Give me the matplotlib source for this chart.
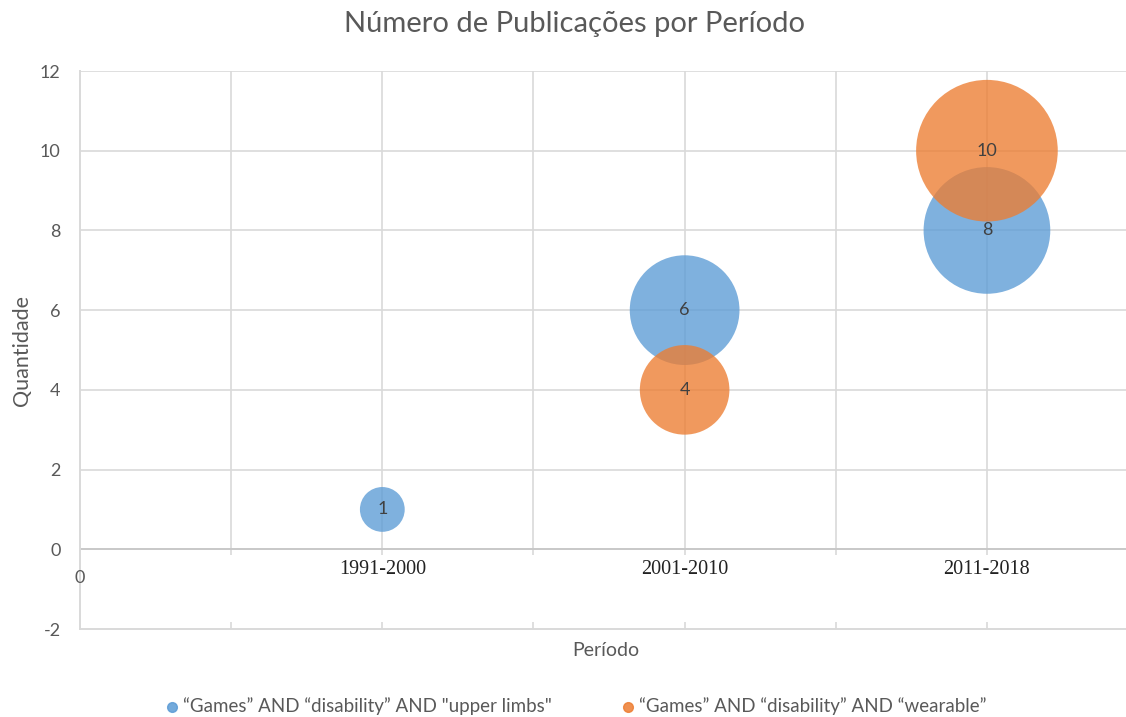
import matplotlib.pyplot as plt
from matplotlib.lines import Line2D
import numpy as np

# data
periods = ["1991-2000", "2001-2010", "2011-2018"]
period_x = [1, 2, 3]
upper_limbs = [1, 6, 8]
wearable = [0, 4, 10]
series_names = ['\u201cGames\u201d AND \u201cdisability\u201d AND "upper limbs"',
                '\u201cGames\u201d AND \u201cdisability\u201d AND \u201cwearable\u201d']
y_ticks = [-2, 0, 2, 4, 6, 8, 10, 12]

BLUE = "#5B9BD5"
ORANGE = "#ED7D31"
GRID = "#D9D9D9"
TXT = "#595959"
SANS = ["Lato", "DejaVu Sans"]
SERIF = ["Liberation Serif", "DejaVu Serif"]

fig = plt.figure(figsize=(11.26, 7.17), dpi=100)
ax = fig.add_axes([80 / 1126, 1 - 629 / 717, 1 - 80 / 1126, (629 - 71) / 717])
ax.set_xlim(0, 3.46)
ax.set_ylim(-2, 12)

# grid
for gx in np.arange(0.5, 3.5, 0.5):
    ax.vlines(gx, -0.15, 12, color=GRID, lw=1.2, zorder=0)
for gy in y_ticks[2:]:
    ax.axhline(gy, color=GRID, lw=1.2, zorder=0)
ax.axhline(0, color="#C8C8C8", lw=1.4, zorder=0)
for s in ["top", "right"]:
    ax.spines[s].set_visible(False)
for s in ["left", "bottom"]:
    ax.spines[s].set_color(GRID)
    ax.spines[s].set_linewidth(1.4)

ax.set_xticks(np.arange(0.5, 3.5, 0.5))
ax.set_xticklabels([])
ax.tick_params(axis="x", direction="in", length=5, color=GRID, width=1.2)
ax.set_yticks(y_ticks)
ax.set_yticklabels([str(v) for v in y_ticks], fontsize=13, color=TXT, family=SANS)
ax.tick_params(axis="y", length=0, pad=14)

# bubbles: area proportional to value
k = 1040
def bubbles(vals, color):
    xs = [x for x, v in zip(period_x, vals) if v > 0]
    vs = [v for v in vals if v > 0]
    ax.scatter(xs, vs, s=[k * v for v in vs], color=color, alpha=0.78,
               edgecolors="none", zorder=3)
    for x, v in zip(xs, vs):
        ax.text(x, v, str(v), ha="center", va="center", fontsize=13,
                color="#404040", family=SANS, zorder=5)

bubbles(upper_limbs, BLUE)
bubbles(wearable, ORANGE)

for x, lab in zip(period_x, periods):
    ax.text(x, -0.5, lab, ha="center", va="center", fontsize=14.5,
            color="#222222", family=SERIF)
ax.text(0, -0.72, "0", ha="center", va="center", fontsize=13, color=TXT, family=SANS)

fig.text(575 / 1126, 1 - 24 / 717, "Número de Publicações por Período", ha="center",
         va="center", fontsize=21, color=TXT, family=SANS)
fig.text(606 / 1126, 1 - 650 / 717, "Período", ha="center", va="center",
         fontsize=14, color=TXT, family=SANS)
fig.text(22 / 1126, 1 - 350 / 717, "Quantidade", ha="center", va="center",
         rotation=90, fontsize=15.5, color=TXT, family=SANS)

# legend
for lx, c, name in [(172, BLUE, series_names[0]), (628, ORANGE, series_names[1])]:
    fig.add_artist(Line2D([lx / 1126], [1 - 707 / 717], marker="o", markersize=7,
                          color=c, alpha=0.85, linestyle="none",
                          transform=fig.transFigure))
    fig.text((lx + 11) / 1126, 1 - 706 / 717, name, ha="left", va="center",
             fontsize=13.5, color=TXT, family=SANS)

fig.savefig("out.png", dpi=100)
